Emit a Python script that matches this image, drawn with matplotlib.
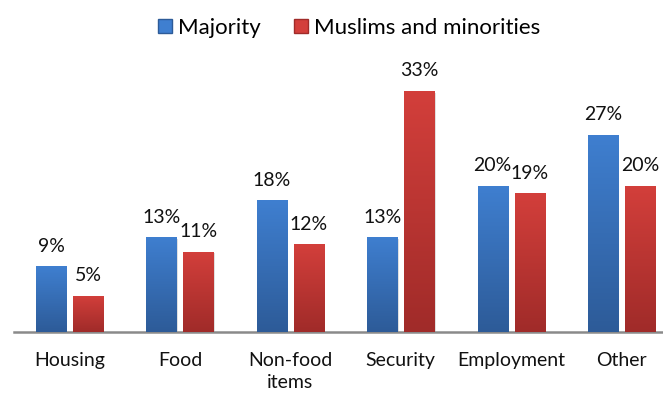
import numpy as np
import matplotlib
matplotlib.use("Agg")
import matplotlib.pyplot as plt
from matplotlib.patches import Patch

plt.rcParams['font.family'] = ['Lato', 'DejaVu Sans']

categories = ["Housing", "Food", "Non-food\nitems", "Security", "Employment", "Other"]
majority = [9, 13, 18, 13, 20, 27]
minorities = [5, 11, 12, 33, 19, 20]
series_names = ["Majority", "Muslims and minorities"]

blue_top, blue_bottom = "#3f7fd0", "#2d5b98"
red_top, red_bottom = "#d33f3b", "#a02b29"


def gradient_bar(ax, x, h, w, top, bottom):
    # shadow behind the bar
    ax.bar(x + 0.012, h, w, bottom=-0.25, color="#000000", alpha=0.12, zorder=1,
           linewidth=0)
    bar = ax.bar(x, h, w, color=top, zorder=2, linewidth=0)[0]
    c1 = np.array(matplotlib.colors.to_rgb(bottom))
    c2 = np.array(matplotlib.colors.to_rgb(top))
    t = np.linspace(0, 1, 256)[:, None]
    img = (c1 * (1 - t) + c2 * t)[:, None, :]
    im = ax.imshow(img, extent=[x - w / 2, x + w / 2, 0, h], origin="lower",
                   aspect="auto", zorder=3)
    im.set_clip_path(bar)


fig = plt.figure(figsize=(6.63, 3.93), dpi=100)
ax = fig.add_axes([0.0216, 0.155, 0.999, 0.67])

x = np.arange(len(categories))
w = 0.272
off = 0.1676
for i in x:
    gradient_bar(ax, i - off, majority[i], w, blue_top, blue_bottom)
    gradient_bar(ax, i + off, minorities[i], w, red_top, red_bottom)
    ax.text(i - off, majority[i] + 1.55, f"{majority[i]}%", ha="center",
            va="bottom", fontsize=14, color="#111111")
    ax.text(i + off, minorities[i] + 1.55, f"{minorities[i]}%", ha="center",
            va="bottom", fontsize=14, color="#111111")

ax.set_xlim(-0.5, len(categories) - 0.5)
ax.set_ylim(0, 36)
ax.set_xticks(x)
ax.set_xticklabels(categories, fontsize=14, color="#111111", linespacing=1.4)
ax.tick_params(axis="x", length=0, pad=14)
ax.set_yticks([])
for s in ["top", "right", "left"]:
    ax.spines[s].set_visible(False)
ax.spines["bottom"].set_color("#8a8a8a")
ax.spines["bottom"].set_linewidth(1.8)

handles = [Patch(facecolor=blue_top, edgecolor=blue_bottom),
           Patch(facecolor=red_top, edgecolor=red_bottom)]
fig.legend(handles, series_names, loc="upper center", bbox_to_anchor=(0.527, 1.005),
           ncol=2, frameon=False, fontsize=16, handlelength=0.63, handleheight=0.63,
           handletextpad=0.27, columnspacing=1.5)

fig.savefig("out.png", dpi=100)
